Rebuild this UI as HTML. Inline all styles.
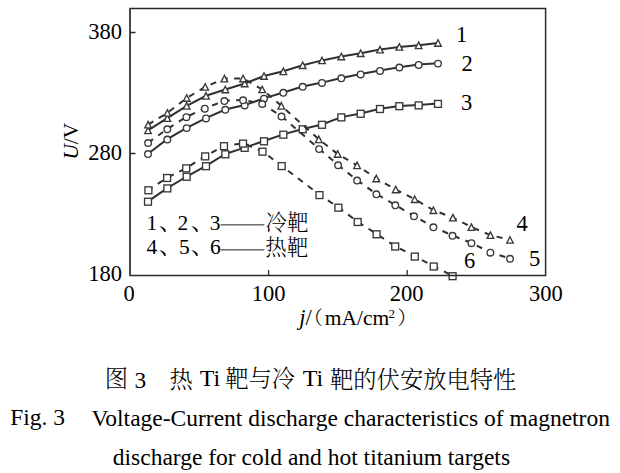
<!DOCTYPE html>
<html><head><meta charset="utf-8">
<style>
html,body{margin:0;padding:0;background:#fff;}
body{width:620px;height:473px;overflow:hidden;position:relative;}
svg{position:absolute;left:0;top:0;}
.t{font-family:"Liberation Serif","Noto Serif CJK SC",serif;fill:#000;}
.c{font-family:"Noto Serif CJK SC","Liberation Serif",serif;fill:#000;font-weight:300;}
</style></head><body>
<svg width="620" height="473" viewBox="0 0 620 473">
<rect x="0" y="0" width="620" height="473" fill="#fff"/>
<g id="legendline"><text class="c" font-size="21.5" x="219.6" y="0" textLength="46" lengthAdjust="spacingAndGlyphs" style="fill:#707070" transform="translate(0,233.3) scale(1,1.45)">——</text>
<text class="c" font-size="21.5" x="219.6" y="0" textLength="46" lengthAdjust="spacingAndGlyphs" style="fill:#707070" transform="translate(0,257.9) scale(1,1.45)">——</text></g>
<g id="plot">
<polyline points="148.0,130.4 167.3,118.1 186.7,105.8 206.0,95.8 225.3,89.5 244.7,83.5 264.0,76.0 283.3,71.3 302.7,65.2 322.0,60.4 341.3,56.5 360.7,53.2 380.0,49.6 399.3,46.9 418.7,45.3 438.0,43.0" fill="none" stroke="#303030" stroke-width="2.0"/>
<g fill="#fff" stroke="#383838" stroke-width="1.35"><path d="M148.00,127.20L151.30,133.65L144.70,133.65Z"/><path d="M167.33,114.90L170.63,121.35L164.03,121.35Z"/><path d="M186.67,102.60L189.97,109.05L183.37,109.05Z"/><path d="M206.00,92.60L209.30,99.05L202.70,99.05Z"/><path d="M225.33,86.30L228.63,92.75L222.03,92.75Z"/><path d="M244.67,80.30L247.97,86.75L241.37,86.75Z"/><path d="M264.00,72.80L267.30,79.25L260.70,79.25Z"/><path d="M283.33,68.10L286.63,74.55L280.03,74.55Z"/><path d="M302.67,62.00L305.97,68.45L299.37,68.45Z"/><path d="M322.00,57.20L325.30,63.65L318.70,63.65Z"/><path d="M341.33,53.30L344.63,59.75L338.03,59.75Z"/><path d="M360.67,50.00L363.97,56.45L357.37,56.45Z"/><path d="M380.00,46.40L383.30,52.85L376.70,52.85Z"/><path d="M399.33,43.70L402.63,50.15L396.03,50.15Z"/><path d="M418.67,42.10L421.97,48.55L415.37,48.55Z"/><path d="M438.00,39.80L441.30,46.25L434.70,46.25Z"/></g>
<polyline points="148.0,153.7 167.3,139.2 186.7,127.8 206.0,118.1 225.3,109.5 244.7,105.1 264.0,98.4 283.3,92.5 302.7,86.5 322.0,82.6 341.3,78.0 360.7,74.1 380.0,70.6 399.3,67.2 418.7,64.6 438.0,63.3" fill="none" stroke="#303030" stroke-width="2.0"/>
<g fill="#fff" stroke="#383838" stroke-width="1.35"><circle cx="148.00" cy="154.00" r="3.3"/><circle cx="167.33" cy="139.50" r="3.3"/><circle cx="186.67" cy="128.10" r="3.3"/><circle cx="206.00" cy="118.40" r="3.3"/><circle cx="225.33" cy="109.80" r="3.3"/><circle cx="244.67" cy="105.40" r="3.3"/><circle cx="264.00" cy="98.70" r="3.3"/><circle cx="283.33" cy="92.80" r="3.3"/><circle cx="302.67" cy="86.80" r="3.3"/><circle cx="322.00" cy="82.90" r="3.3"/><circle cx="341.33" cy="78.30" r="3.3"/><circle cx="360.67" cy="74.40" r="3.3"/><circle cx="380.00" cy="70.90" r="3.3"/><circle cx="399.33" cy="67.50" r="3.3"/><circle cx="418.67" cy="64.90" r="3.3"/><circle cx="438.00" cy="63.60" r="3.3"/></g>
<polyline points="148.0,201.4 167.3,188.1 186.7,176.5 206.0,165.9 225.3,154.0 244.7,147.6 264.0,141.0 283.3,134.4 302.7,129.0 322.0,124.5 341.3,117.1 360.7,113.5 380.0,108.7 399.3,105.9 418.7,105.1 438.0,103.6" fill="none" stroke="#303030" stroke-width="2.0"/>
<g fill="#fff" stroke="#383838" stroke-width="1.35"><rect x="144.55" y="198.25" width="6.90" height="6.90"/><rect x="163.88" y="184.95" width="6.90" height="6.90"/><rect x="183.22" y="173.35" width="6.90" height="6.90"/><rect x="202.55" y="162.75" width="6.90" height="6.90"/><rect x="221.88" y="150.85" width="6.90" height="6.90"/><rect x="241.22" y="144.45" width="6.90" height="6.90"/><rect x="260.55" y="137.85" width="6.90" height="6.90"/><rect x="279.88" y="131.25" width="6.90" height="6.90"/><rect x="299.22" y="125.85" width="6.90" height="6.90"/><rect x="318.55" y="121.35" width="6.90" height="6.90"/><rect x="337.88" y="113.95" width="6.90" height="6.90"/><rect x="357.22" y="110.35" width="6.90" height="6.90"/><rect x="376.55" y="105.55" width="6.90" height="6.90"/><rect x="395.88" y="102.75" width="6.90" height="6.90"/><rect x="415.22" y="101.95" width="6.90" height="6.90"/><rect x="434.55" y="100.45" width="6.90" height="6.90"/></g>
<polyline points="148.1,124.6 167.4,112.9 186.7,98.0 205.2,86.9 224.4,78.6 243.1,78.5 262.2,89.4 281.3,105.8 318.8,139.3 337.7,154.0 357.1,165.3 376.3,178.5 395.7,189.5 414.7,199.2 433.4,210.2 452.9,217.6 471.4,227.1 490.4,235.1 510.0,239.9" fill="none" stroke="#303030" stroke-width="2.0" stroke-dasharray="6.1 6.3" stroke-dashoffset="0"/>
<g fill="#fff" stroke="#383838" stroke-width="1.35"><path d="M148.10,121.40L151.40,127.85L144.80,127.85Z"/><path d="M167.40,109.70L170.70,116.15L164.10,116.15Z"/><path d="M186.70,94.80L190.00,101.25L183.40,101.25Z"/><path d="M205.20,83.70L208.50,90.15L201.90,90.15Z"/><path d="M224.40,75.40L227.70,81.85L221.10,81.85Z"/><path d="M243.10,75.30L246.40,81.75L239.80,81.75Z"/><path d="M262.20,86.20L265.50,92.65L258.90,92.65Z"/><path d="M281.30,102.60L284.60,109.05L278.00,109.05Z"/><path d="M318.80,136.10L322.10,142.55L315.50,142.55Z"/><path d="M337.70,150.80L341.00,157.25L334.40,157.25Z"/><path d="M357.10,162.10L360.40,168.55L353.80,168.55Z"/><path d="M376.30,175.30L379.60,181.75L373.00,181.75Z"/><path d="M395.70,186.30L399.00,192.75L392.40,192.75Z"/><path d="M414.70,196.00L418.00,202.45L411.40,202.45Z"/><path d="M433.40,207.00L436.70,213.45L430.10,213.45Z"/><path d="M452.90,214.40L456.20,220.85L449.60,220.85Z"/><path d="M471.40,223.90L474.70,230.35L468.10,230.35Z"/><path d="M490.40,231.90L493.70,238.35L487.10,238.35Z"/><path d="M510.00,236.70L513.30,243.15L506.70,243.15Z"/></g>
<polyline points="148.1,142.7 167.3,129.0 186.4,116.9 204.8,108.4 224.4,100.8 243.1,100.0 262.2,103.7 281.5,116.3 319.1,148.8 338.1,165.0 357.1,180.2 376.4,194.0 395.3,205.0 414.0,216.0 433.4,227.0 452.5,235.5 471.4,242.9 490.4,252.4 510.0,258.5" fill="none" stroke="#303030" stroke-width="2.0" stroke-dasharray="6.1 6.3" stroke-dashoffset="0"/>
<g fill="#fff" stroke="#383838" stroke-width="1.35"><circle cx="148.10" cy="143.00" r="3.3"/><circle cx="167.30" cy="129.30" r="3.3"/><circle cx="186.40" cy="117.20" r="3.3"/><circle cx="204.80" cy="108.70" r="3.3"/><circle cx="224.40" cy="101.10" r="3.3"/><circle cx="243.10" cy="100.30" r="3.3"/><circle cx="262.20" cy="104.00" r="3.3"/><circle cx="281.50" cy="116.60" r="3.3"/><circle cx="319.10" cy="149.10" r="3.3"/><circle cx="338.10" cy="165.30" r="3.3"/><circle cx="357.10" cy="180.50" r="3.3"/><circle cx="376.40" cy="194.30" r="3.3"/><circle cx="395.30" cy="205.30" r="3.3"/><circle cx="414.00" cy="216.30" r="3.3"/><circle cx="433.40" cy="227.30" r="3.3"/><circle cx="452.50" cy="235.80" r="3.3"/><circle cx="471.40" cy="243.20" r="3.3"/><circle cx="490.40" cy="252.70" r="3.3"/><circle cx="510.00" cy="258.80" r="3.3"/></g>
<polyline points="148.4,190.0 167.1,177.7 186.2,168.1 205.2,156.1 224.0,145.9 243.0,143.3 262.5,151.4 281.7,165.8 319.5,194.8 338.4,207.4 357.7,221.7 376.6,234.0 395.2,246.2 414.8,256.3 433.7,266.2 452.6,275.9" fill="none" stroke="#303030" stroke-width="2.0" stroke-dasharray="6.1 6.3" stroke-dashoffset="1.2"/>
<g fill="#fff" stroke="#383838" stroke-width="1.35"><rect x="144.95" y="186.85" width="6.90" height="6.90"/><rect x="163.65" y="174.55" width="6.90" height="6.90"/><rect x="182.75" y="164.95" width="6.90" height="6.90"/><rect x="201.75" y="152.95" width="6.90" height="6.90"/><rect x="220.55" y="142.75" width="6.90" height="6.90"/><rect x="239.55" y="140.15" width="6.90" height="6.90"/><rect x="259.05" y="148.25" width="6.90" height="6.90"/><rect x="278.25" y="162.65" width="6.90" height="6.90"/><rect x="316.05" y="191.65" width="6.90" height="6.90"/><rect x="334.95" y="204.25" width="6.90" height="6.90"/><rect x="354.25" y="218.55" width="6.90" height="6.90"/><rect x="373.15" y="230.85" width="6.90" height="6.90"/><rect x="391.75" y="243.05" width="6.90" height="6.90"/><rect x="411.35" y="253.15" width="6.90" height="6.90"/><rect x="430.25" y="263.05" width="6.90" height="6.90"/><rect x="449.15" y="272.75" width="6.90" height="6.90"/></g>
</g>
<g id="frame">
<path d="M130,8.5H545.6V275.4H130Z" fill="none" stroke="#2a2a2a" stroke-width="1.5"/>
<path d="M130,8.5V275.4" stroke="#484848" stroke-width="2"/>
<path d="M130,32.5H135.5M130,153.5H135.5M268.6,275.2V270M407.2,275.2V270" stroke="#2a2a2a" stroke-width="1.3"/>
</g>
<text id="t380" class="t" font-size="22.50" x="88.20" y="39.10">380</text>
<text id="t280" class="t" font-size="22.50" x="88.30" y="160.30">280</text>
<text id="t180" class="t" font-size="22.50" x="88.30" y="281.10">180</text>
<text id="x0" class="t" font-size="22.50" x="123.40" y="301.00">0</text>
<text id="x100" class="t" font-size="22.50" x="251.80" y="300.80">100</text>
<text id="x200" class="t" font-size="22.50" x="389.80" y="301.00">200</text>
<text id="x300" class="t" font-size="22.50" x="529.10" y="301.00">300</text>
<text id="l1" class="t" font-size="22.50" x="456.00" y="42.00">1</text>
<text id="l2" class="t" font-size="22.50" x="461.40" y="71.20">2</text>
<text id="l3" class="t" font-size="22.50" x="460.90" y="109.60">3</text>
<text id="l4" class="t" font-size="22.50" x="516.40" y="231.20">4</text>
<text id="l5" class="t" font-size="22.50" x="529.10" y="265.60">5</text>
<text id="l6" class="t" font-size="22.50" x="463.90" y="268.20">6</text>
<text id="jj" class="t" font-size="22.50" x="299.20" y="324.80"><tspan font-style="italic">j</tspan>/</text>
<text id="pl" class="c" font-size="19.00" x="303.70" y="325.20">（</text>
<text id="mA" class="t" font-size="21.50" x="324.70" y="324.80">mA/cm</text>
<text id="sq2" class="t" font-size="13.00" x="388.40" y="317.60">2</text>
<text id="pr" class="c" font-size="19.00" x="397.40" y="325.00">）</text>
<text id="g1" class="t" font-size="21.50" x="146.40" y="230.00">1</text>
<text id="g1c1" class="c" font-size="24.50" x="158.80" y="230.10">、</text>
<text id="g2" class="t" font-size="21.50" x="177.60" y="230.00">2</text>
<text id="g1c2" class="c" font-size="24.50" x="190.80" y="230.10">、</text>
<text id="g3" class="t" font-size="21.50" x="209.80" y="230.00">3</text>
<text id="g4" class="t" font-size="21.50" x="146.40" y="254.40">4</text>
<text id="g2c1" class="c" font-size="24.50" x="158.80" y="254.10">、</text>
<text id="g5" class="t" font-size="21.50" x="179.00" y="254.40">5</text>
<text id="g2c2" class="c" font-size="24.50" x="190.80" y="254.10">、</text>
<text id="g6" class="t" font-size="21.50" x="210.00" y="254.40">6</text>
<text id="cold" class="c" font-size="21.50" x="265.40" y="229.80">冷靶</text>
<text id="hot" class="c" font-size="21.50" x="265.30" y="255.00">热靶</text>
<text id="fig" class="c" font-size="23.30" x="104.80" y="386.90">图</text>
<text id="fig3" class="t" font-size="23.30" x="134.60" y="387.50">3</text>
<text id="re" class="c" font-size="23.30" x="169.60" y="387.50">热</text>
<text id="ti1" class="t" font-size="24.00" x="199.80" y="385.50">Ti</text>
<text id="bay" class="c" font-size="23.30" x="225.20" y="387.00">靶与冷</text>
<text id="ti2" class="t" font-size="24.00" x="302.80" y="385.50">Ti</text>
<text id="rest" class="c" font-size="23.30" x="330.00" y="387.50">靶的伏安放电特性</text>
<text id="F3" class="t" font-size="23.50" x="10.20" y="425.00">Fig. 3</text>
<text id="VC" class="t" font-size="23.50" x="91.40" y="425.80">Voltage-Current discharge characteristics of magnetron</text>
<text id="dc" class="t" font-size="23.50" x="112.80" y="465.00">discharge for cold and hot titanium targets</text>
<text id="UV" class="t" font-size="21.3" transform="translate(78.40,159.60) rotate(-90)"><tspan font-style="italic">U</tspan>/V</text>
</svg>
</body></html>
